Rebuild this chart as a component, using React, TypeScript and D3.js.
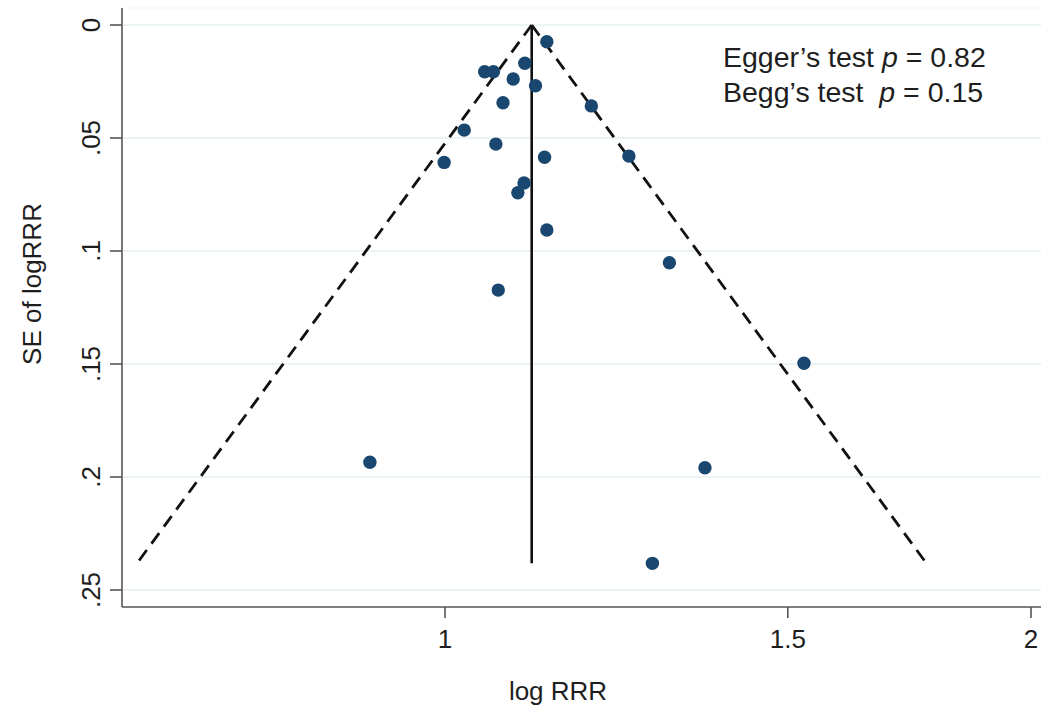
import React from "react";
import * as d3 from "d3";

// Study estimates: relative risk ratio and its standard error (of log RRR)
const studyRRR: number[] = [
  1.128, 1.048, 1.059, 1.099, 1.084, 1.113, 1.071, 1.189, 1.023, 1.062, 0.999,
  1.125, 1.098, 1.09, 1.128, 1.243, 1.304, 1.065, 1.529, 1.36, 1.278, 0.915,
];
const studySE: number[] = [
  0.0074, 0.0207, 0.0207, 0.0169, 0.0239, 0.0269, 0.0344, 0.0358, 0.0465, 0.0527,
  0.0608, 0.0585, 0.0699, 0.0742, 0.0907, 0.058, 0.1052, 0.1173, 0.1497, 0.1959,
  0.2382, 0.1935,
];
const pooledRRR = 1.108;

const xTicks: number[] = [1, 1.5, 2];
const xTickLabels: string[] = ["1", "1.5", "2"];
const yTicks: number[] = [0, 0.05, 0.1, 0.15, 0.2, 0.25];
const yTickLabels: string[] = ["0", ".05", ".1", ".15", ".2", ".25"];

const W = 1041;
const H = 710;
const plotLeft = 122;
const plotRight = 1041;
const plotTop = 8;
const plotBottom = 607;

const FONT = "'Liberation Sans', Arial, Helvetica, sans-serif";

export default function App() {
  const x = d3.scaleLog().domain([1, 2]).range([445, 1031]);
  const y = d3.scaleLinear().domain([0, 0.25]).range([25, 590]);

  const seMax = d3.max(studySE) as number;
  const lnCenter = Math.log(pooledRRR);
  const leftEnd = Math.exp(lnCenter - 1.96 * seMax);
  const rightEnd = Math.exp(lnCenter + 1.96 * seMax);

  const line = d3
    .line<[number, number]>()
    .x((d) => x(d[0]))
    .y((d) => y(d[1]));

  const funnelLeft = line([
    [pooledRRR, 0],
    [leftEnd, seMax],
  ]);
  const funnelRight = line([
    [pooledRRR, 0],
    [rightEnd, seMax],
  ]);

  return (
    <svg
      width={W}
      height={H}
      style={{ display: "block", position: "absolute", left: 0, top: 0, background: "#fff" }}
      fontFamily={FONT}
    >
      <rect x={0} y={0} width={W} height={H} fill="#fff" />
      {/* plot region top edge */}
      <line x1={plotLeft} x2={plotRight} y1={plotTop} y2={plotTop} stroke="#f3f6f7" strokeWidth={1} />
      {/* horizontal gridlines */}
      {yTicks.map((t) => (
        <line
          key={"g" + t}
          x1={plotLeft}
          x2={plotRight}
          y1={y(t)}
          y2={y(t)}
          stroke="#e6eff1"
          strokeWidth={1.6}
        />
      ))}

      {/* y axis */}
      <line x1={plotLeft} x2={plotLeft} y1={plotTop} y2={plotBottom} stroke="#555" strokeWidth={1.6} />
      {yTicks.map((t, i) => (
        <g key={"yt" + t}>
          <line x1={plotLeft - 12} x2={plotLeft} y1={y(t)} y2={y(t)} stroke="#555" strokeWidth={1.6} />
          <text
            transform={`translate(100,${y(t)}) rotate(-90)`}
            textAnchor="middle"
            fontSize={26}
            fill="#1e1e1e"
          >
            {yTickLabels[i]}
          </text>
        </g>
      ))}

      {/* x axis */}
      <line x1={plotLeft} x2={plotRight} y1={plotBottom} y2={plotBottom} stroke="#555" strokeWidth={1.6} />
      {xTicks.map((t, i) => (
        <g key={"xt" + t}>
          <line x1={x(t)} x2={x(t)} y1={plotBottom} y2={plotBottom + 11} stroke="#555" strokeWidth={1.6} />
          <text x={x(t)} y={648} textAnchor="middle" fontSize={26} fill="#1e1e1e">
            {xTickLabels[i]}
          </text>
        </g>
      ))}

      {/* axis titles */}
      <text x={558} y={700} textAnchor="middle" fontSize={26} fill="#1e1e1e">
        log RRR
      </text>
      <text transform="translate(41,284) rotate(-90)" textAnchor="middle" fontSize={26} fill="#1e1e1e">
        SE of logRRR
      </text>

      {/* pseudo 95% confidence limits */}
      <path d={funnelLeft ?? ""} fill="none" stroke="#111" strokeWidth={2.8} strokeDasharray="13 8" />
      <path d={funnelRight ?? ""} fill="none" stroke="#111" strokeWidth={2.8} strokeDasharray="13 8" />
      {/* pooled estimate */}
      <line
        x1={x(pooledRRR)}
        x2={x(pooledRRR)}
        y1={y(0)}
        y2={y(seMax)}
        stroke="#111"
        strokeWidth={2.6}
      />

      {/* studies */}
      {studyRRR.map((r, i) => (
        <circle key={"p" + i} cx={x(r)} cy={y(studySE[i])} r={6.7} fill="#1a476f" />
      ))}

      {/* bias tests */}
      <text x={723} y={67} fontSize={28.5} fill="#1e1e1e" xmlSpace="preserve">
        Egger’s test <tspan fontStyle="italic">p</tspan> = 0.82
      </text>
      <text x={723} y={102} fontSize={28.5} fill="#1e1e1e" xmlSpace="preserve">
        Begg’s test  <tspan fontStyle="italic">p</tspan> = 0.15
      </text>
    </svg>
  );
}
